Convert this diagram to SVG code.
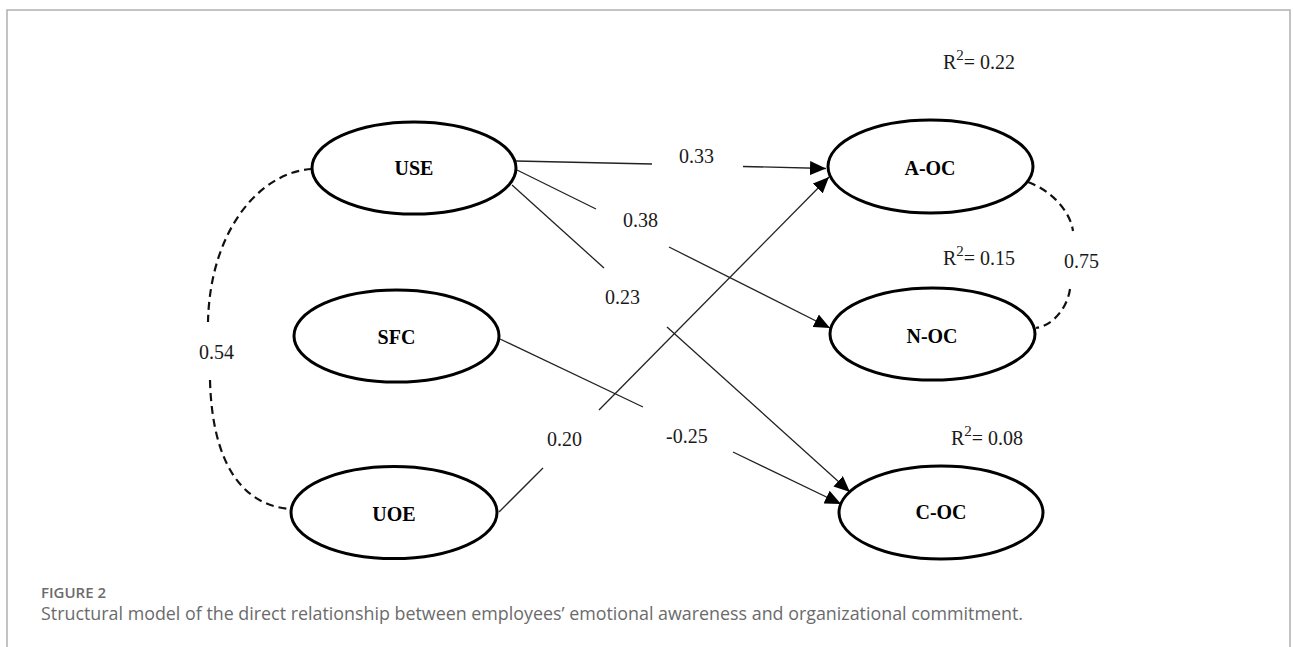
<svg xmlns="http://www.w3.org/2000/svg" width="1293" height="647" viewBox="0 0 1293 647">
<style>
.node ellipse{fill:#fff;stroke:#000;stroke-width:3}
.lbl{font-family:"Liberation Serif","Times New Roman",serif;font-weight:bold;font-size:20px;fill:#000;text-anchor:middle}
.num{font-family:"Liberation Serif","Times New Roman",serif;font-size:20px;fill:#1a1a1a}
.edge{stroke:#222;stroke-width:1.3;fill:none}
.dash{stroke:#111;stroke-width:2.2;fill:none;stroke-dasharray:8 5}
.cap{font-family:"Open Sans","Liberation Sans",sans-serif;fill:#6b6b6b}
</style>
<defs>
<marker id="ah" markerUnits="userSpaceOnUse" markerWidth="16" markerHeight="14" viewBox="0 0 16 14" refX="16" refY="7" orient="auto">
<path d="M0,0 L16,7 L0,14 z" fill="#000"/>
</marker>
</defs>
<rect width="1293" height="647" fill="#fff"/>
<path d="M7,647 V10 H1290 V647" fill="none" stroke="#b0b0b0" stroke-width="1.5"/>

<g id="connectors">
<line class="edge" x1="516" y1="161" x2="652" y2="164"/>
<line class="edge" x1="743" y1="166.5" x2="826" y2="168.5" marker-end="url(#ah)"/>
<line class="edge" x1="517" y1="170" x2="596" y2="209"/>
<line class="edge" x1="669" y1="247" x2="830" y2="328" marker-end="url(#ah)"/>
<line class="edge" x1="512" y1="185" x2="604" y2="268"/>
<line class="edge" x1="667" y1="327" x2="850" y2="492" marker-end="url(#ah)"/>
<line class="edge" x1="500" y1="339" x2="643" y2="407"/>
<line class="edge" x1="733" y1="452" x2="841" y2="504" marker-end="url(#ah)"/>
<line class="edge" x1="499" y1="512" x2="543" y2="468"/>
<line class="edge" x1="599" y1="410" x2="829" y2="177" marker-end="url(#ah)"/>
<path class="dash" d="M312,169 C260,172 210,230 208,322"/>
<path class="dash" d="M210,380 C212,460 240,505 290,509"/>
<path class="dash" d="M1028,182 C1050,190 1070,210 1073,231"/>
<path class="dash" d="M1070,289 C1068,305 1055,325 1036,328"/>
</g>

<g id="node-USE" class="node"><ellipse cx="414" cy="168" rx="102" ry="46"/><text class="lbl" x="414" y="175">USE</text></g>
<g id="node-SFC" class="node"><ellipse cx="396.5" cy="336" rx="102.5" ry="46"/><text class="lbl" x="396.5" y="344">SFC</text></g>
<g id="node-UOE" class="node"><ellipse cx="394" cy="512.5" rx="103" ry="46"/><text class="lbl" x="394" y="520.5">UOE</text></g>
<g id="node-AOC" class="node"><ellipse cx="930.5" cy="166.5" rx="102.5" ry="46.5"/><text class="lbl" x="930" y="175">A-OC</text></g>
<g id="node-NOC" class="node"><ellipse cx="932.5" cy="334" rx="102.5" ry="46"/><text class="lbl" x="932" y="343">N-OC</text></g>
<g id="node-COC" class="node"><ellipse cx="941" cy="512.5" rx="102" ry="46.5"/><text class="lbl" x="941" y="519">C-OC</text></g>

<g id="labels">
<text class="num" x="679" y="163">0.33</text>
<text class="num" x="623" y="227">0.38</text>
<text class="num" x="605" y="304">0.23</text>
<text class="num" x="199" y="359">0.54</text>
<text class="num" x="547" y="446">0.20</text>
<text class="num" x="666" y="443">-0.25</text>
<text class="num" x="1064" y="268">0.75</text>
<text class="num" x="943" y="69">R<tspan dy="-9" font-size="15">2</tspan><tspan dy="9">= 0.22</tspan></text>
<text class="num" x="943" y="265">R<tspan dy="-9" font-size="15">2</tspan><tspan dy="9">= 0.15</tspan></text>
<text class="num" x="951" y="445">R<tspan dy="-9" font-size="15">2</tspan><tspan dy="9">= 0.08</tspan></text>
</g>

<g id="caption">
<text class="cap" x="41" y="598" font-size="15" font-weight="600" fill="#555">FIGURE 2</text>
<text class="cap" x="41" y="620" font-size="19" textLength="982" lengthAdjust="spacingAndGlyphs">Structural model of the direct relationship between employees’ emotional awareness and organizational commitment.</text>
</g>
</svg>
